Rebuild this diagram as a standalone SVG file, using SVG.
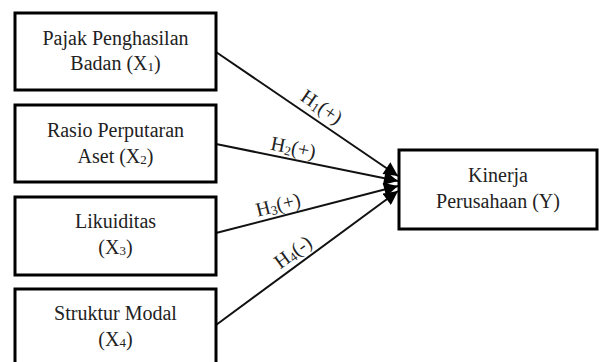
<svg xmlns="http://www.w3.org/2000/svg" width="599" height="362" viewBox="0 0 599 362">
<style>
.box{fill:#fff;stroke:#000;stroke-width:3}
.t{font-family:"Liberation Serif","Times New Roman",serif;font-size:20px;fill:#222;text-anchor:middle}
.lbl{font-family:"Liberation Serif","Times New Roman",serif;font-size:20px;fill:#222;text-anchor:middle}
.sub{font-size:13px}
.ln{stroke:#111;stroke-width:2;fill:none;marker-end:url(#ah)}
</style>
<defs>
<marker id="ah" viewBox="0 0 10 10" refX="10" refY="5" markerWidth="7.5" markerHeight="7" markerUnits="strokeWidth" orient="auto">
<path d="M0,0 L10,5 L0,10 z" fill="#000"/>
</marker>
</defs>
<rect width="599" height="362" fill="#fff"/>
<g id="connectors">
<line class="ln" x1="216" y1="52" x2="398" y2="176"/>
<line class="ln" x1="216" y1="144" x2="398" y2="181"/>
<line class="ln" x1="216" y1="233" x2="398" y2="186"/>
<line class="ln" x1="216" y1="325" x2="398" y2="191"/>
<text class="lbl" transform="translate(314,118) rotate(34.3)" y="-7">H<tspan class="sub" dy="2">1</tspan><tspan dy="-2">(+)</tspan></text>
<text class="lbl" transform="translate(291,159) rotate(11.5)" y="-5">H<tspan class="sub" dy="2">2</tspan><tspan dy="-2">(+)</tspan></text>
<text class="lbl" transform="translate(281,216) rotate(-14.5)" y="-5">H<tspan class="sub" dy="2">3</tspan><tspan dy="-2">(+)</tspan></text>
<text class="lbl" transform="translate(301,263) rotate(-36.2)" y="-7">H<tspan class="sub" dy="2">4</tspan><tspan dy="-2">(-)</tspan></text>
</g>
<g id="x1">
<rect class="box" x="15" y="13" width="201" height="77"/>
<text class="t" x="115.5" y="45">Pajak Penghasilan</text>
<text class="t" x="115.5" y="70">Badan (X<tspan class="sub" dy="1">1</tspan><tspan dy="-1">)</tspan></text>
</g>
<g id="x2">
<rect class="box" x="15" y="105" width="201" height="77"/>
<text class="t" x="115.5" y="137">Rasio Perputaran</text>
<text class="t" x="115.5" y="163">Aset (X<tspan class="sub" dy="1">2</tspan><tspan dy="-1">)</tspan></text>
</g>
<g id="x3">
<rect class="box" x="15" y="197" width="201" height="78"/>
<text class="t" x="115.5" y="228">Likuiditas</text>
<text class="t" x="115.5" y="254">(X<tspan class="sub" dy="1">3</tspan><tspan dy="-1">)</tspan></text>
</g>
<g id="x4">
<rect class="box" x="15" y="289" width="201" height="78"/>
<text class="t" x="115.5" y="320">Struktur Modal</text>
<text class="t" x="115.5" y="346">(X<tspan class="sub" dy="1">4</tspan><tspan dy="-1">)</tspan></text>
</g>
<g id="y">
<rect class="box" x="399" y="150" width="198" height="79"/>
<text class="t" x="498" y="182">Kinerja</text>
<text class="t" x="498" y="208">Perusahaan (Y)</text>
</g>
</svg>
